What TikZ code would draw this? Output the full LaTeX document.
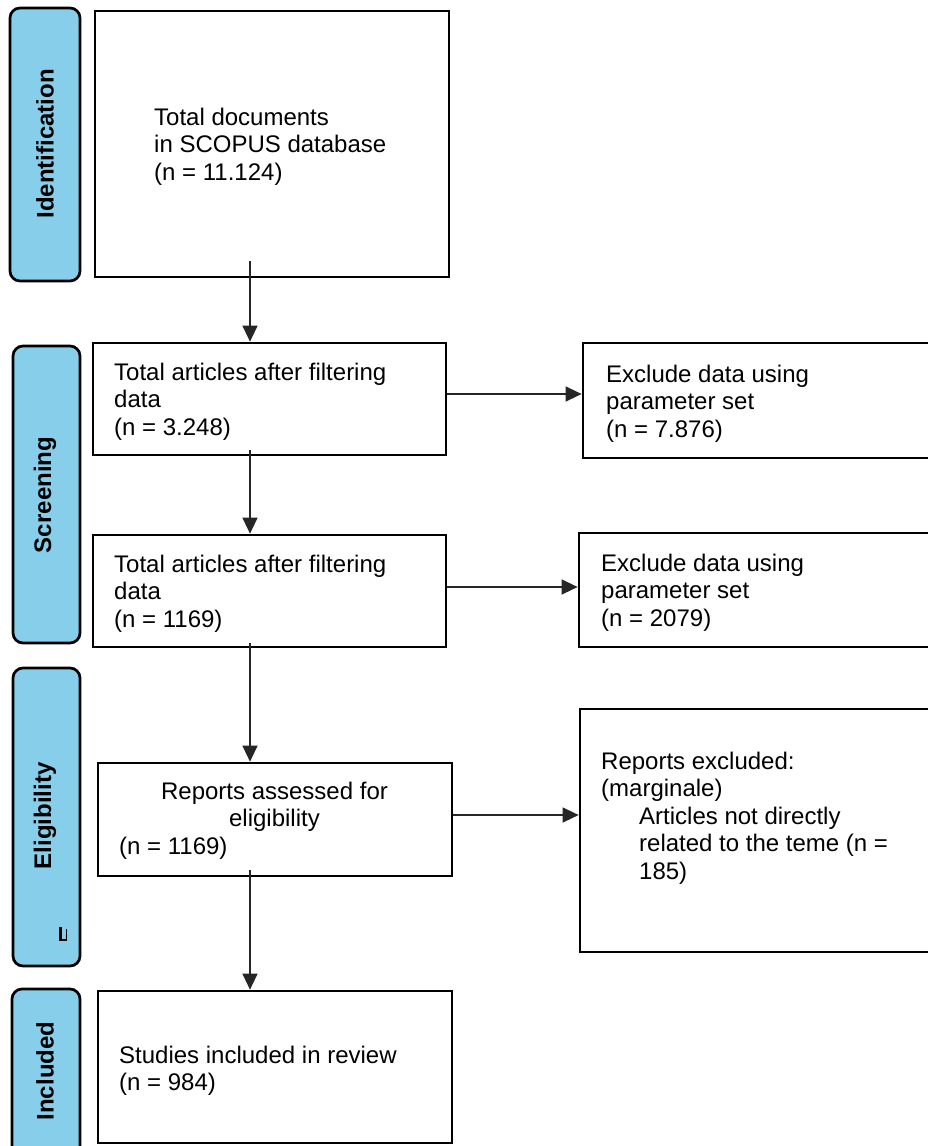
\documentclass[tikz,border=0pt]{standalone}
\usepackage{fontspec}
\setmainfont{Liberation Sans}
\usetikzlibrary{arrows.meta}
\definecolor{barblue}{RGB}{135,206,235}
\begin{document}
\begin{tikzpicture}[x=1pt,y=-1pt,
  box/.style={draw=black, line width=2.7pt, fill=white, inner sep=0pt},
  bar/.style={draw=black, line width=2.7pt, fill=barblue, rounded corners=10pt, inner sep=0pt},
  barlabel/.style={rotate=90, font=\fontsize{24}{27.5}\selectfont\bfseries, inner sep=0pt},
  txt/.style={anchor=north west, align=left, inner sep=0pt, font=\fontsize{24}{27.5}\selectfont},
  conn/.style={draw=black!85, line width=1.3pt, -{Triangle[length=16pt,width=15pt]}}
]
\clip (0,0) rectangle (928,1146);
\fill[white] (0,0) rectangle (928,1146);

% side bars
\node[bar, minimum width=70pt, minimum height=273pt] (idbar) at (45,144.5) {};
\node[bar, minimum width=67pt, minimum height=297pt] (scbar) at (46.5,494.5) {};
\node[bar, minimum width=67pt, minimum height=298pt] (elbar) at (46.5,817) {};
\node[bar, minimum width=68pt, minimum height=171pt] (inbar) at (46,1074.5) {};
\node[barlabel] (idlab) at (45,144) {Identification};
\node[barlabel] (sclab) at (45,495) {Screening};
\node[barlabel] (ellab) at (45,816) {Eligibility};
\node[barlabel] (inlab) at (45,1071) {Included};
\draw[line width=2.5pt] (60.5,927) -- (60.5,940);
\draw[line width=1.3pt] (59,940) -- (66.5,940) -- (66.5,929);

% main boxes
\node[box, minimum width=354pt, minimum height=266pt] (b1) at (272,144) {};
\node[box, minimum width=353pt, minimum height=112pt] (b2) at (269.5,399) {};
\node[box, minimum width=353pt, minimum height=112pt] (b3) at (269.5,591) {};
\node[box, minimum width=354pt, minimum height=113pt] (b4) at (275,819.5) {};
\node[box, minimum width=354pt, minimum height=152pt] (b5) at (275,1067) {};

% right boxes
\node[box, minimum width=362pt, minimum height=115pt] (rA) at (764,400.5) {};
\node[box, minimum width=366pt, minimum height=114pt] (rB) at (762,590) {};
\node[box, minimum width=365pt, minimum height=243pt] (rC) at (762.5,830.5) {};

% texts
\node[txt] (t1) at (154,107.5) {Total documents\\in SCOPUS database\\(n = 11.124)};
\node[txt] (t2) at (114,362.5) {Total articles after filtering\\data\\(n = 3.248)};
\node[txt] (t3) at (114,554.5) {Total articles after filtering\\data\\(n = 1169)};
\node[txt] (tA) at (606,364.5) {Exclude data using\\parameter set\\(n = 7.876)};
\node[txt] (tB) at (601,553.5) {Exclude data using\\parameter set\\(n = 2079)};
\node[txt, anchor=north, align=center] (t4a) at (274.5,781.5) {Reports assessed for\\eligibility};
\node[txt] (t4b) at (119,836.5) {(n = 1169)};
\node[txt] (t5) at (119,1045.5) {Studies included in review\\(n = 984)};
\node[txt] (tC1) at (601,751.5) {Reports excluded:\\(marginale)};
\node[txt] (tC2) at (639,806.5) {Articles not directly\\related to the teme (n =\\185)};

% connectors
\coordinate (s1) at ([xshift=-22pt,yshift=17pt]b1.south);
\draw[conn] (s1) -- (s1 |- b2.north);
\coordinate (s2) at ([xshift=-19.5pt,yshift=6pt]b2.south);
\draw[conn] (s2) -- (s2 |- b3.north);
\coordinate (s3) at ([xshift=-19.5pt,yshift=5pt]b3.south);
\draw[conn] (s3) -- (s3 |- b4.north);
\coordinate (s4) at ([xshift=-25pt,yshift=7pt]b4.south);
\draw[conn] (s4) -- (s4 |- b5.north);
\coordinate (h1) at ([yshift=5pt]b2.east);
\draw[conn] (h1) -- (h1 -| rA.west);
\coordinate (h2) at ([yshift=4pt]b3.east);
\draw[conn] (h2) -- (h2 -| rB.west);
\coordinate (h3) at ([yshift=4.5pt]b4.east);
\draw[conn] (h3) -- (h3 -| rC.west);
\end{tikzpicture}
\end{document}
